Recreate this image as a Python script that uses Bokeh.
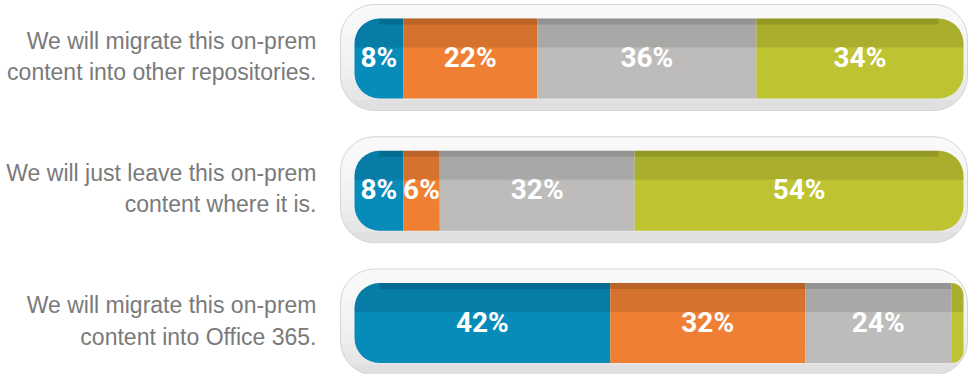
from bokeh.plotting import figure
from bokeh.models import Range1d, ColumnDataSource
from bokeh.core.properties import value
from bokeh.embed import file_html
from bokeh.resources import INLINE

# ---------------- data ----------------
questions = [
    "We will migrate this on-prem\ncontent into other repositories.",
    "We will just leave this on-prem\ncontent where it is.",
    "We will migrate this on-prem\ncontent into Office 365.",
]
blue = [8, 8, 42]
orange = [22, 6, 32]
gray = [36, 32, 24]
green = [34, 54, 2]
series = [blue, orange, gray, green]
colors = ["#078bb9", "#ee7f33", "#bdbcba", "#bdc331"]

# ---------------- layout ----------------
W, H = 968, 374
X0_PX, X100_PX = 354, 963
PPU = (X100_PX - X0_PX) / 100.0          # pixels per percent
ROW0_PX, ROW_STEP = 58, 132.25            # pixel centre of first row, row spacing


def dx(px):
    return px / PPU


def dy(px):
    return px / ROW_STEP


x_start = -X0_PX / PPU
x_end = (W - X0_PX) / PPU
y_top = ROW0_PX / ROW_STEP
y_bottom = -(H - ROW0_PX) / ROW_STEP

p = figure(width=W, height=H, x_range=Range1d(x_start, x_end),
           y_range=Range1d(y_bottom, y_top), output_backend="svg",
           toolbar_location=None, min_border=0, x_axis_location=None,
           y_axis_location=None, outline_line_color=None,
           background_fill_color="white", border_fill_color="white")
p.grid.visible = False

n_rows = len(questions)
row_y = [-i for i in range(n_rows)]

# ---------------- containers ----------------
C_LEFT = dx(340 - X0_PX)
C_RIGHT = dx(967 - X0_PX)
C_HALF = dy(53)
C_SHIFT = dy(1)
C_RAD = 34
for y in row_y:
    cy = y + C_SHIFT
    p.quad(left=[C_LEFT], right=[C_RIGHT], top=[cy + C_HALF], bottom=[cy - C_HALF],
           fill_color="#e0e0e0", line_color=None, border_radius=C_RAD)
    N = 9
    for k in range(1, N + 1):
        depth = 2 * C_HALF * (N + 1 - k) / (N + 1)
        p.quad(left=[C_LEFT - 1], right=[C_RIGHT + 1], top=[cy + C_HALF],
               bottom=[cy + C_HALF - depth], fill_color="white", fill_alpha=0.19,
               line_color=None)
    p.quad(left=[C_LEFT], right=[C_RIGHT], top=[cy + C_HALF], bottom=[cy - C_HALF],
           fill_color=None, line_color="#d5d5d5", line_width=1, border_radius=C_RAD)

# ---------------- bars ----------------
B_HALF = dy(40)
B_RAD = 25
lbl_x, lbl_y, lbl_t = [], [], []
for i, y in enumerate(row_y):
    vals = [s[i] for s in series]
    cum = 0
    nseg = len(vals)
    for j, v in enumerate(vals):
        left, right = cum, cum + v
        cum = right
        tl = B_RAD if j == 0 else 0
        tr = B_RAD if j == nseg - 1 else 0
        p.quad(left=[left], right=[right], top=[y + B_HALF], bottom=[y - B_HALF],
               fill_color=colors[j], line_color=None,
               border_radius=(tl, tr, tr, tl))
        # top shading band
        p.quad(left=[left], right=[right], top=[y + B_HALF], bottom=[y + B_HALF - dy(29)],
               fill_color="black", fill_alpha=0.10, line_color=None,
               border_radius=(tl, tr, 0, 0))
        l2 = left + (dx(B_RAD) if tl else 0)
        r2 = right - (dx(B_RAD) if tr else 0)
        if r2 > l2:
            p.quad(left=[l2], right=[r2], top=[y + B_HALF], bottom=[y + B_HALF - dy(6)],
                   fill_color="black", fill_alpha=0.12, line_color=None)
        if v >= 5:
            lbl_x.append((left + right) / 2)
            lbl_y.append(y)
            lbl_t.append(f"{v}%")

p.text(x=lbl_x, y=lbl_y, text=lbl_t, text_color="white",
       text_font=value("Roboto"), text_font_style="bold",
       text_font_size="28px", text_align="center", text_baseline="middle",
       y_offset=-1)

# ---------------- question labels ----------------
src = ColumnDataSource(dict(x=[dx(316 - X0_PX)] * n_rows,
                            y=[y + dy(2) for y in row_y], t=questions))
p.text(x="x", y="y", text="t", source=src, text_color="#7a7a7a",
       text_font=value("Liberation Sans"), text_font_size="23px",
       text_align="right", text_baseline="middle", text_line_height=1.2)

open("out.html", "w").write(file_html(p, INLINE))
